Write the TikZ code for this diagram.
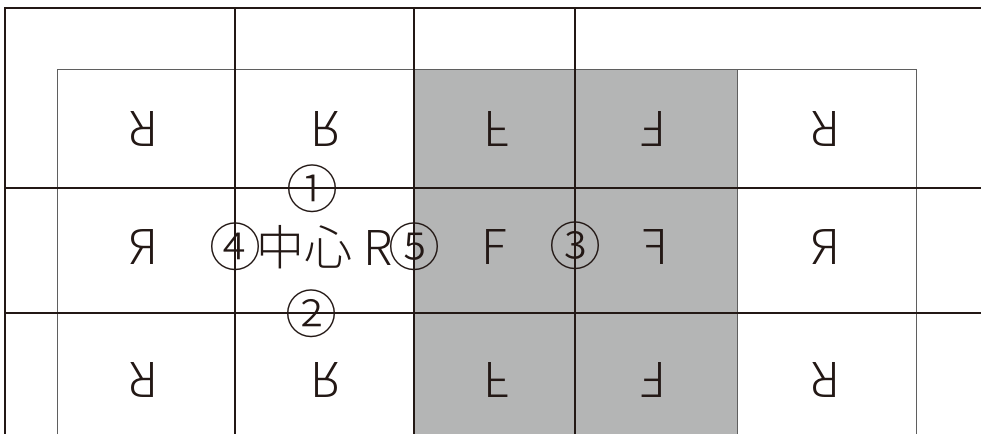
\documentclass[tikz,border=0pt]{standalone}
\usepackage{fontspec}
\setmainfont{Noto Sans CJK JP Light}
\usepackage{graphicx}
\definecolor{ink}{RGB}{35,24,21}
\definecolor{fillgray}{RGB}{180,181,181}
\definecolor{thinc}{RGB}{95,95,95}
\newcommand{\rotR}[1]{\rotatebox[origin=c]{180}{#1}}
\newcommand{\vflip}[1]{\rotatebox[origin=c]{180}{\reflectbox{#1}}}
\begin{document}
\begin{tikzpicture}[x=1pt,y=-1pt,
  heavyline/.style={draw=ink,line width=1.6pt},
  lightline/.style={draw=thinc,line width=0.9pt},
  glyph/.style={inner sep=0pt,font=\fontsize{48}{48}\selectfont,text=ink},
  circnum/.style={inner sep=0pt,font=\fontsize{52}{52}\selectfont,text=ink}]
\useasboundingbox (0,0) rectangle (981,434);
\fill[fillgray] (414,69) rectangle (737,434);
% thin frame
\draw[lightline] (57,434) -- (57,69) -- (916,69) -- (916,434);
\draw[lightline] (737,69) -- (737,434);
% heavy grid
\draw[heavyline] (981,8) -- (5,8) -- (5,434);
\draw[heavyline] (5,188) -- (981,188);
\draw[heavyline] (5,313) -- (981,313);
\draw[heavyline] (235,8) -- (235,434);
\draw[heavyline] (414,8) -- (414,434);
\draw[heavyline] (575,8) -- (575,434);
% row 1
\node[glyph] (r11) at (144,129) {\rotR{R}};
\node[glyph] (r12) at (325.5,129) {\vflip{R}};
\node[glyph] (r13) at (496,129) {\vflip{F}};
\node[glyph] (r14) at (654,129) {\rotR{F}};
\node[glyph] (r15) at (826,129) {\rotR{R}};
% row 2
\node[glyph] (r21) at (144,246.5) {\reflectbox{R}};
\node[glyph,anchor=base] (center) at (324.5,265) {中心 R};
\node[glyph] (r23) at (494,246.5) {F};
\node[glyph] (r24) at (656,246.5) {\reflectbox{F}};
\node[glyph] (r25) at (826,246.5) {\reflectbox{R}};
% row 3
\node[glyph] (r31) at (144,380) {\rotR{R}};
\node[glyph] (r32) at (325.5,380) {\vflip{R}};
\node[glyph] (r33) at (496,380) {\vflip{F}};
\node[glyph] (r34) at (654,380) {\rotR{F}};
\node[glyph] (r35) at (826,380) {\rotR{R}};
% circled numbers
\node[circnum] (c1) at (312,189) {①};
\node[circnum] (c2) at (311,314) {②};
\node[circnum] (c3) at (575,246) {③};
\node[circnum] (c4) at (235,246.5) {④};
\node[circnum] (c5) at (414.5,246.5) {⑤};
\end{tikzpicture}
\end{document}
